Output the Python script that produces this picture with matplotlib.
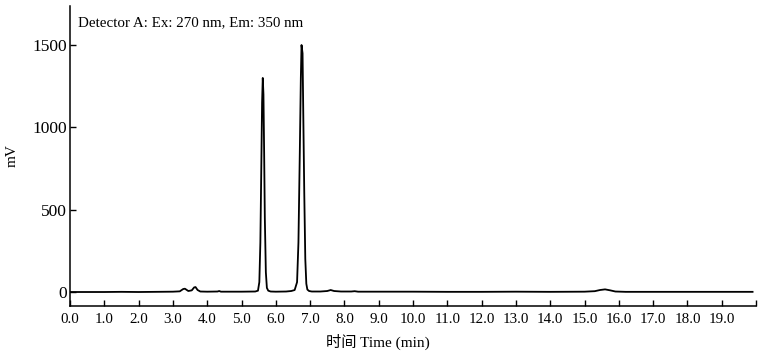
import matplotlib
matplotlib.use("Agg")
import matplotlib.pyplot as plt

# chromatogram trace (time in min, signal in mV)
time_min = [0.0, 1.0, 1.5, 2.0, 2.5, 3.0, 3.2, 3.3, 3.35, 3.45, 3.55, 3.62, 3.66,
            3.72, 3.8, 4.0, 4.3, 4.35, 4.4, 5.0, 5.4, 5.48, 5.52, 5.55, 5.58, 5.6,
            5.62, 5.64, 5.66, 5.68, 5.71, 5.74, 5.78, 5.85, 6.0, 6.3, 6.45, 6.55,
            6.62, 6.66, 6.70, 6.73, 6.75, 6.78, 6.80, 6.83, 6.86, 6.89, 6.92,
            6.97, 7.05, 7.3, 7.5, 7.6, 7.7, 7.9, 8.2, 8.3, 8.4, 9.0, 10.0, 11.0,
            12.0, 13.0, 14.0, 15.0, 15.3, 15.45, 15.6, 15.75, 15.9, 16.2, 17.0,
            18.0, 19.0, 19.9]
signal_mv = [0, 0, 1, 0, 1, 2, 4, 18, 20, 6, 10, 28, 30, 12, 3, 2, 3, 6, 2, 2,
             3, 8, 60, 300, 800, 1150, 1300, 1200, 850, 450, 120, 25, 8, 3, 2, 3,
             6, 12, 60, 300, 850, 1300, 1500, 1450, 1100, 600, 200, 50, 15, 6, 3,
             3, 6, 12, 6, 3, 3, 5, 2, 2, 2, 1, 1, 2, 1, 2, 5, 12, 16, 10, 3, 1, 1,
             1, 1, 1]

x_ticks = list(range(0, 21))
x_labels = [f"{t:.1f}" for t in range(0, 20)] + [""]
y_ticks = [0, 500, 1000, 1500]

FONT = ["Liberation Serif", "Noto Sans CJK SC", "DejaVu Serif"]
plt.rcParams["font.family"] = FONT

fig = plt.figure(figsize=(7.62, 3.51), dpi=100)
ax = fig.add_axes([70 / 762, 1 - 306 / 351, (756 - 70) / 762, (306 - 6) / 351])

ax.plot(time_min, signal_mv, color="black", lw=1.3, solid_joinstyle="round")

ax.set_xlim(0, 20)
ax.set_ylim(-85, 1737)
ax.set_xticks(x_ticks)
ax.set_xticklabels(x_labels)
ax.set_yticks(y_ticks)
ax.tick_params(direction="in", length=4, width=1)
ax.tick_params(axis="x", labelsize=10.8, pad=5)
ax.tick_params(axis="y", labelsize=12.5, pad=2)
for s in ("top", "right"):
    ax.spines[s].set_visible(False)
for s in ("left", "bottom"):
    ax.spines[s].set_linewidth(1.1)

ax.set_ylabel("mV", fontsize=11)
ax.yaxis.set_label_coords(-51 / 686, 0.5)
ax.set_xlabel("时间 Time (min)", fontsize=11)
ax.xaxis.set_label_coords((378 - 70) / 686, -28 / 300)
ax.text(8 / 686, 0.965, "Detector A: Ex: 270 nm, Em: 350 nm", transform=ax.transAxes,
        fontsize=10.8, va="top", ha="left")

fig.savefig("out.png", dpi=100)
